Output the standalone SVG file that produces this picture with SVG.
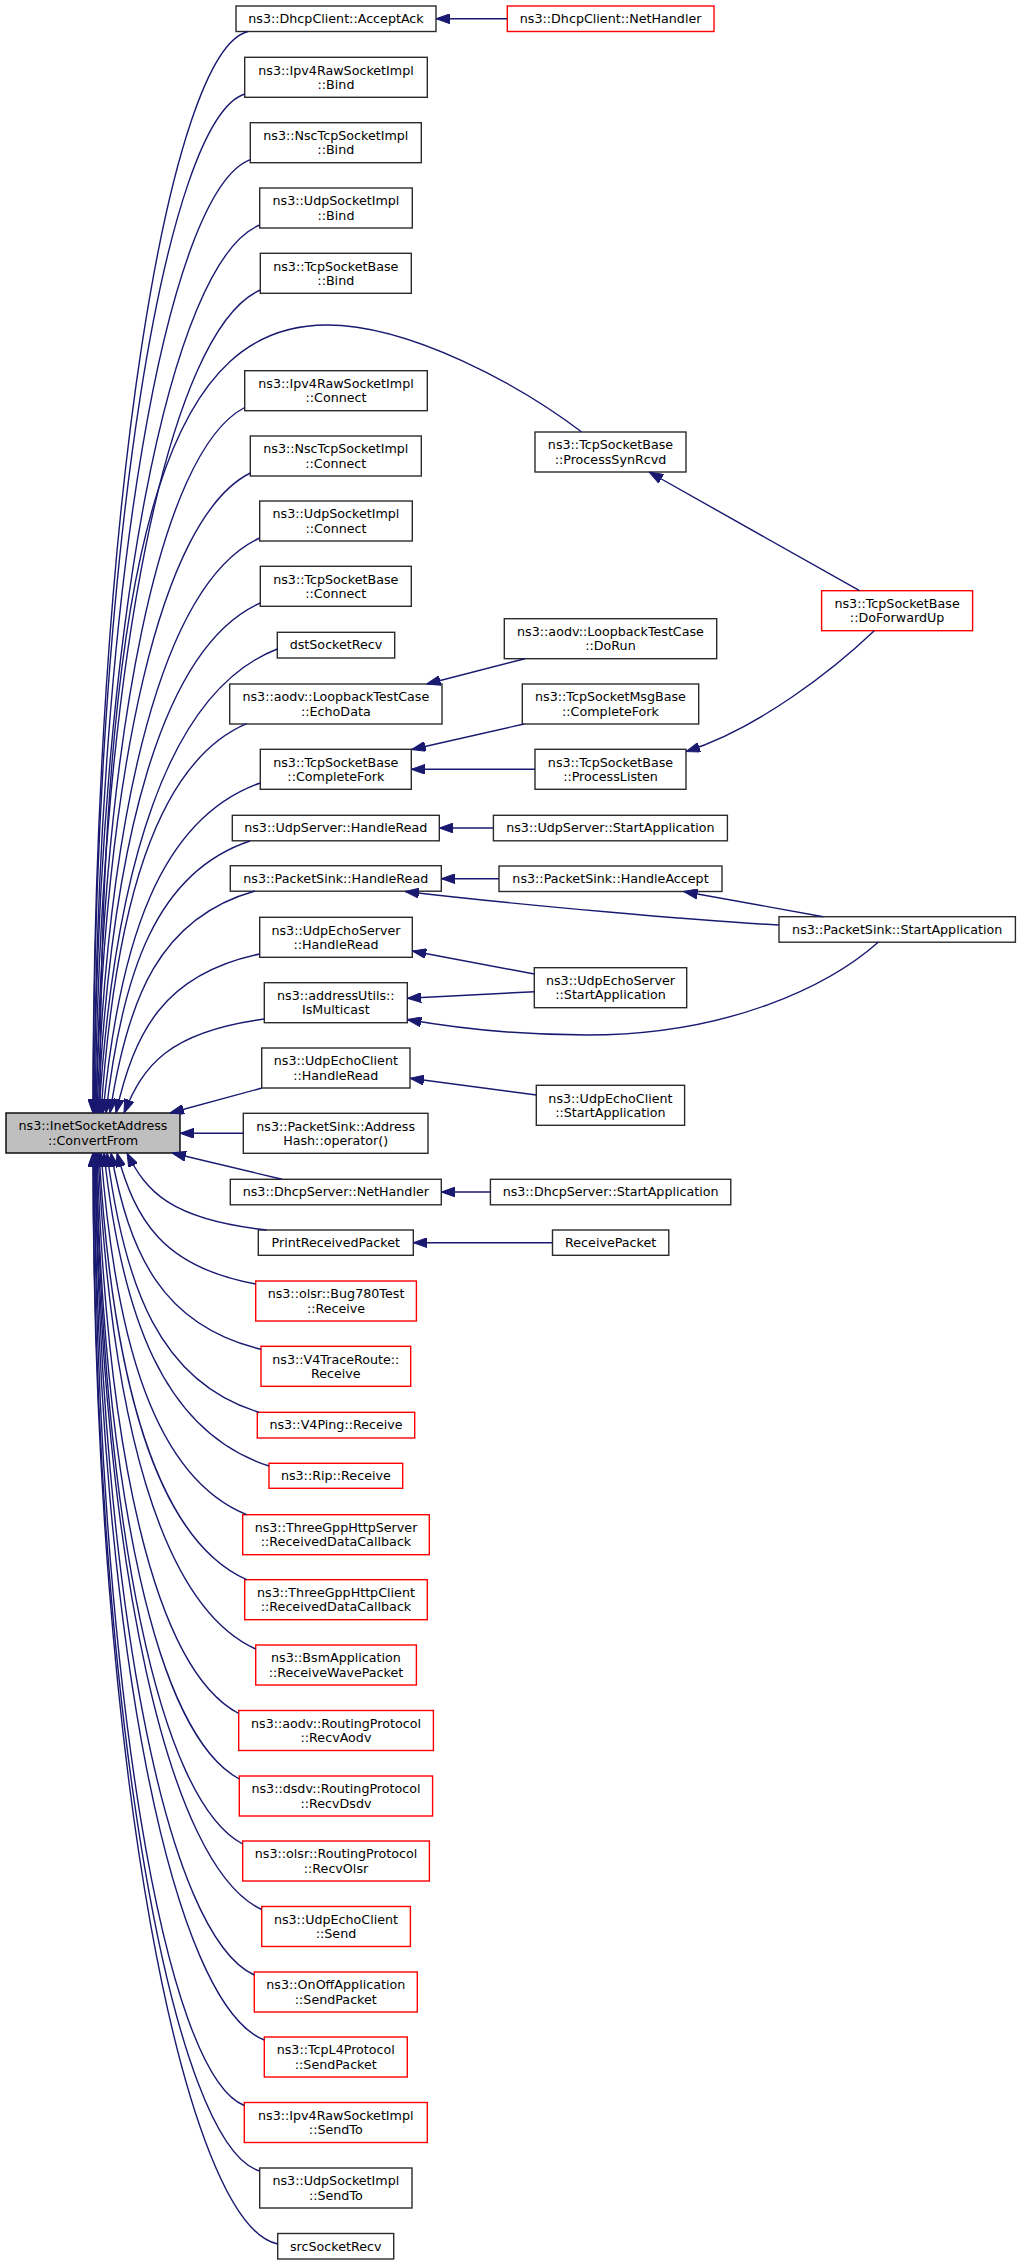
<svg xmlns="http://www.w3.org/2000/svg" width="1021" height="2265" viewBox="0 0 1021 2265">
<style>
.node rect{fill:#ffffff;stroke:#2b2b2b;stroke-width:1.4}
.node.red rect{stroke:#ff0000}
.node.root rect{fill:#bfbfbf;stroke:#000000}
.node text{font-family:"DejaVu Sans","Liberation Sans",sans-serif;font-size:12.7px;text-anchor:middle;fill:#000000}
#edges path{fill:none;stroke:#191970;stroke-width:1.4;marker-end:url(#ah)}
</style>
<defs>
<marker id="ah" viewBox="0 0 14 10" refX="14" refY="5" markerWidth="14" markerHeight="10" orient="auto" markerUnits="userSpaceOnUse">
<path d="M0,0 L14,5 L0,10 z" fill="#191970" stroke="#191970" stroke-width="1"/>
</marker>
</defs>
<rect x="0" y="0" width="1021" height="2265" fill="#ffffff"/>

<g id="root" class="node root"><rect x="6" y="1113" width="174" height="40"/><text x="93" y="1130.2">ns3::InetSocketAddress</text><text x="93" y="1144.5">::ConvertFrom</text></g>

<g id="n1" class="node"><rect x="236" y="6" width="200" height="25.5"/><text x="336" y="23">ns3::DhcpClient::AcceptAck</text></g>
<g id="n2" class="node"><rect x="244.7" y="57.3" width="182.6" height="40"/><text x="336" y="74.5">ns3::Ipv4RawSocketImpl</text><text x="336" y="88.8">::Bind</text></g>
<g id="n3" class="node"><rect x="250.3" y="122.7" width="171" height="40"/><text x="335.8" y="139.9">ns3::NscTcpSocketImpl</text><text x="335.8" y="154.2">::Bind</text></g>
<g id="n4" class="node"><rect x="259.7" y="188" width="152.6" height="40"/><text x="336" y="205.2">ns3::UdpSocketImpl</text><text x="336" y="219.5">::Bind</text></g>
<g id="n5" class="node"><rect x="260.3" y="253.3" width="151" height="40"/><text x="335.8" y="270.5">ns3::TcpSocketBase</text><text x="335.8" y="284.8">::Bind</text></g>
<g id="n6" class="node"><rect x="244.7" y="370.7" width="182.6" height="40"/><text x="336" y="387.9">ns3::Ipv4RawSocketImpl</text><text x="336" y="402.2">::Connect</text></g>
<g id="n7" class="node"><rect x="250.3" y="436" width="171" height="40"/><text x="335.8" y="453.2">ns3::NscTcpSocketImpl</text><text x="335.8" y="467.5">::Connect</text></g>
<g id="n8" class="node"><rect x="259.7" y="501" width="152.6" height="40"/><text x="336" y="518.2">ns3::UdpSocketImpl</text><text x="336" y="532.5">::Connect</text></g>
<g id="n9" class="node"><rect x="260.3" y="566.3" width="151" height="40"/><text x="335.8" y="583.5">ns3::TcpSocketBase</text><text x="335.8" y="597.8">::Connect</text></g>
<g id="n10" class="node"><rect x="277.3" y="632.3" width="117.4" height="25.7"/><text x="336" y="649.3">dstSocketRecv</text></g>
<g id="n11" class="node"><rect x="229.7" y="684" width="212.3" height="40"/><text x="335.85" y="701.2">ns3::aodv::LoopbackTestCase</text><text x="335.85" y="715.5">::EchoData</text></g>
<g id="n12" class="node"><rect x="260.3" y="749.3" width="151" height="40"/><text x="335.8" y="766.5">ns3::TcpSocketBase</text><text x="335.8" y="780.8">::CompleteFork</text></g>
<g id="n13" class="node"><rect x="232.3" y="815.3" width="207" height="25.5"/><text x="335.8" y="832.3">ns3::UdpServer::HandleRead</text></g>
<g id="n14" class="node"><rect x="230.3" y="865.7" width="211" height="25.5"/><text x="335.8" y="882.7">ns3::PacketSink::HandleRead</text></g>
<g id="n15" class="node"><rect x="259.7" y="917.3" width="152.6" height="40"/><text x="336" y="934.5">ns3::UdpEchoServer</text><text x="336" y="948.8">::HandleRead</text></g>
<g id="n16" class="node"><rect x="264.3" y="982.7" width="143" height="40"/><text x="335.8" y="999.9">ns3::addressUtils::</text><text x="335.8" y="1014.2">IsMulticast</text></g>
<g id="n17" class="node"><rect x="261.7" y="1048" width="148.3" height="40"/><text x="335.85" y="1065.2">ns3::UdpEchoClient</text><text x="335.85" y="1079.5">::HandleRead</text></g>
<g id="n18" class="node"><rect x="243.3" y="1113.3" width="184.7" height="40"/><text x="335.65" y="1130.5">ns3::PacketSink::Address</text><text x="335.65" y="1144.8">Hash::operator()</text></g>
<g id="n19" class="node"><rect x="230.3" y="1179.3" width="211" height="25.5"/><text x="335.8" y="1196.3">ns3::DhcpServer::NetHandler</text></g>
<g id="n20" class="node"><rect x="258.3" y="1230" width="155" height="25.3"/><text x="335.8" y="1247">PrintReceivedPacket</text></g>
<g id="n21" class="node red"><rect x="255.7" y="1281" width="160.7" height="40"/><text x="336" y="1298.2">ns3::olsr::Bug780Test</text><text x="336" y="1312.5">::Receive</text></g>
<g id="n22" class="node red"><rect x="261" y="1346.3" width="149.7" height="40"/><text x="335.85" y="1363.5">ns3::V4TraceRoute::</text><text x="335.85" y="1377.8">Receive</text></g>
<g id="n23" class="node red"><rect x="257.3" y="1412.3" width="157.4" height="25.7"/><text x="336" y="1429.3">ns3::V4Ping::Receive</text></g>
<g id="n24" class="node red"><rect x="269" y="1463.3" width="133.7" height="25"/><text x="335.85" y="1480.3">ns3::Rip::Receive</text></g>
<g id="n25" class="node red"><rect x="242.7" y="1514.7" width="186.6" height="40"/><text x="336" y="1531.9">ns3::ThreeGppHttpServer</text><text x="336" y="1546.2">::ReceivedDataCallback</text></g>
<g id="n26" class="node red"><rect x="244.7" y="1579.7" width="182.6" height="40"/><text x="336" y="1596.9">ns3::ThreeGppHttpClient</text><text x="336" y="1611.2">::ReceivedDataCallback</text></g>
<g id="n27" class="node red"><rect x="255.7" y="1645" width="160.7" height="40"/><text x="336" y="1662.2">ns3::BsmApplication</text><text x="336" y="1676.5">::ReceiveWavePacket</text></g>
<g id="n28" class="node red"><rect x="238.7" y="1710.5" width="194.7" height="40"/><text x="336" y="1727.7">ns3::aodv::RoutingProtocol</text><text x="336" y="1742">::RecvAodv</text></g>
<g id="n29" class="node red"><rect x="239.3" y="1776" width="193.3" height="40"/><text x="336" y="1793.2">ns3::dsdv::RoutingProtocol</text><text x="336" y="1807.5">::RecvDsdv</text></g>
<g id="n30" class="node red"><rect x="242.7" y="1841" width="186.7" height="40"/><text x="336" y="1858.2">ns3::olsr::RoutingProtocol</text><text x="336" y="1872.5">::RecvOlsr</text></g>
<g id="n31" class="node red"><rect x="261.7" y="1906.5" width="148.7" height="40"/><text x="336" y="1923.7">ns3::UdpEchoClient</text><text x="336" y="1938">::Send</text></g>
<g id="n32" class="node red"><rect x="254.3" y="1972" width="163" height="40"/><text x="335.8" y="1989.2">ns3::OnOffApplication</text><text x="335.8" y="2003.5">::SendPacket</text></g>
<g id="n33" class="node red"><rect x="264.3" y="2037" width="143" height="40"/><text x="335.8" y="2054.2">ns3::TcpL4Protocol</text><text x="335.8" y="2068.5">::SendPacket</text></g>
<g id="n34" class="node red"><rect x="244.3" y="2102.5" width="183" height="40"/><text x="335.8" y="2119.7">ns3::Ipv4RawSocketImpl</text><text x="335.8" y="2134">::SendTo</text></g>
<g id="n35" class="node"><rect x="259.7" y="2168" width="152.3" height="40"/><text x="335.85" y="2185.2">ns3::UdpSocketImpl</text><text x="335.85" y="2199.5">::SendTo</text></g>
<g id="n36" class="node"><rect x="277.7" y="2233.5" width="116" height="25.5"/><text x="335.7" y="2250.5">srcSocketRecv</text></g>

<g id="m1" class="node red"><rect x="507.3" y="6" width="206.7" height="25.5"/><text x="610.65" y="23">ns3::DhcpClient::NetHandler</text></g>
<g id="m2" class="node"><rect x="535" y="432" width="151" height="40"/><text x="610.5" y="449.2">ns3::TcpSocketBase</text><text x="610.5" y="463.5">::ProcessSynRcvd</text></g>
<g id="m3" class="node red"><rect x="821.6" y="590.7" width="151" height="40"/><text x="897.1" y="607.9">ns3::TcpSocketBase</text><text x="897.1" y="622.2">::DoForwardUp</text></g>
<g id="m4" class="node"><rect x="504.3" y="618.7" width="212.4" height="40"/><text x="610.5" y="635.9">ns3::aodv::LoopbackTestCase</text><text x="610.5" y="650.2">::DoRun</text></g>
<g id="m5" class="node"><rect x="522.3" y="684" width="176.4" height="40"/><text x="610.5" y="701.2">ns3::TcpSocketMsgBase</text><text x="610.5" y="715.5">::CompleteFork</text></g>
<g id="m6" class="node"><rect x="535" y="749.3" width="151" height="40"/><text x="610.5" y="766.5">ns3::TcpSocketBase</text><text x="610.5" y="780.8">::ProcessListen</text></g>
<g id="m7" class="node"><rect x="493.4" y="815.3" width="234" height="25.5"/><text x="610.4" y="832.3">ns3::UdpServer::StartApplication</text></g>
<g id="m8" class="node"><rect x="499" y="866" width="223" height="25.5"/><text x="610.5" y="883">ns3::PacketSink::HandleAccept</text></g>
<g id="m9" class="node"><rect x="779" y="916.7" width="236.4" height="25.5"/><text x="897.2" y="933.7">ns3::PacketSink::StartApplication</text></g>
<g id="m10" class="node"><rect x="534.3" y="967.7" width="152.4" height="40"/><text x="610.5" y="984.9">ns3::UdpEchoServer</text><text x="610.5" y="999.2">::StartApplication</text></g>
<g id="m11" class="node"><rect x="536.3" y="1085.3" width="148.3" height="40"/><text x="610.45" y="1102.5">ns3::UdpEchoClient</text><text x="610.45" y="1116.8">::StartApplication</text></g>
<g id="m12" class="node"><rect x="490.4" y="1179.3" width="240.4" height="25.5"/><text x="610.6" y="1196.3">ns3::DhcpServer::StartApplication</text></g>
<g id="m13" class="node"><rect x="552.5" y="1230" width="116.3" height="25.3"/><text x="610.65" y="1247">ReceivePacket</text></g>

<g id="edges">
<path d="M248,31.5 C170.5,49.9 93,496.5 93,1113"/>
<path d="M244.7,94 C167.2,118.9 94.3,536.2 93,1113"/>
<path d="M250.3,159.7 C168.4,190.5 96.8,577.5 94,1113"/>
<path d="M259.7,225 C170.9,260.8 98.5,618 94,1113"/>
<path d="M260.3,290 C169.7,329.6 100.9,657.6 95,1113"/>
<path d="M581.7,432 C520,385 410,325 327,325 C180,325 100,500 100,1113"/>
<path d="M244.7,407.5 C160.1,451.3 103.7,728 96,1113"/>
<path d="M250.3,473 C160.5,517.8 105.4,766.5 96,1113"/>
<path d="M259.7,538 C163.1,582.7 108.4,804.1 97,1113"/>
<path d="M260.3,603 C161.9,646.7 110.9,841.2 98,1113"/>
<path d="M277.3,649 C167.8,691.3 114.3,867.1 99,1113"/>
<path d="M246.7,723.7 C155.2,762.7 115,908.6 101,1113"/>
<path d="M260.3,783 C159.8,818.4 119.4,941 103,1113"/>
<path d="M250,841 C156.4,872 122.1,972.1 106,1113"/>
<path d="M255,891 C159.4,917.7 127.3,998.9 110,1113"/>
<path d="M259.7,954 C163.3,974.3 134.4,1031.9 116,1113"/>
<path d="M264.3,1019 C168.5,1031.8 143.2,1065.4 124,1113"/>
<path d="M262,1088 L170,1113"/>
<path d="M243.3,1133.3 L180,1133.3"/>
<path d="M282,1179.3 L172,1153"/>
<path d="M266.7,1230 C170.9,1219.4 146.4,1191.9 127,1153"/>
<path d="M255.7,1284 C161.9,1266.8 135.3,1219.5 117,1153"/>
<path d="M261,1349.3 C161.4,1325.2 129.4,1253.6 111,1153"/>
<path d="M259,1412.3 C159.9,1382.3 124.3,1287 107,1153"/>
<path d="M269,1466 C163.1,1431.8 121.6,1315.8 104,1153"/>
<path d="M246.7,1514.7 C154.5,1477.3 115.6,1342.2 101,1153"/>
<path d="M246.7,1579.7 C155,1538.9 112.4,1378.2 99,1153"/>
<path d="M255.7,1649 C159.8,1605.7 110.8,1416.9 98,1153"/>
<path d="M238.7,1713.5 C154.2,1668.9 107.2,1453.6 97,1153"/>
<path d="M239.3,1779 C155.6,1734.2 105,1491.4 96,1153"/>
<path d="M242.7,1844 C158.8,1799.9 103.9,1529.5 96,1153"/>
<path d="M261.7,1909.5 C168.3,1867.1 102.5,1568.3 95,1153"/>
<path d="M254.3,1975 C167,1935.5 100.7,1607.8 95,1153"/>
<path d="M264.3,2040 C173,2004.3 98.6,1647.5 94,1153"/>
<path d="M244.3,2105.5 C165.5,2074.7 96.7,1688 94,1153"/>
<path d="M259.7,2171 C174.5,2146.2 94.4,1729.2 93,1153"/>
<path d="M277.7,2244 C185.3,2225.5 93,1774.9 93,1153"/>
<path d="M507.3,18.75 L436,18.75"/>
<path d="M859.5,590.7 L649,472"/>
<path d="M525,658.7 L426.7,684"/>
<path d="M524,724 L411.7,749.5"/>
<path d="M535,769.3 L411.3,769.3"/>
<path d="M874.3,630.7 C835,668 760,728 686,751.5"/>
<path d="M493.4,828 L439.3,828"/>
<path d="M499,878.7 L441.3,878.7"/>
<path d="M823.3,916.7 L683.6,891.5"/>
<path d="M779,925 C700,921 520,905 405,891.5"/>
<path d="M534.3,974 L412.3,951"/>
<path d="M534.3,991.7 L407.3,998.3"/>
<path d="M878.5,942 C830,985 730,1035 587,1035 C510,1035 450,1027 407.3,1019.5"/>
<path d="M536.3,1095 L410,1078.3"/>
<path d="M490.4,1192 L441.3,1192"/>
<path d="M552.5,1242.7 L413.3,1242.7"/>
</g>
</svg>
